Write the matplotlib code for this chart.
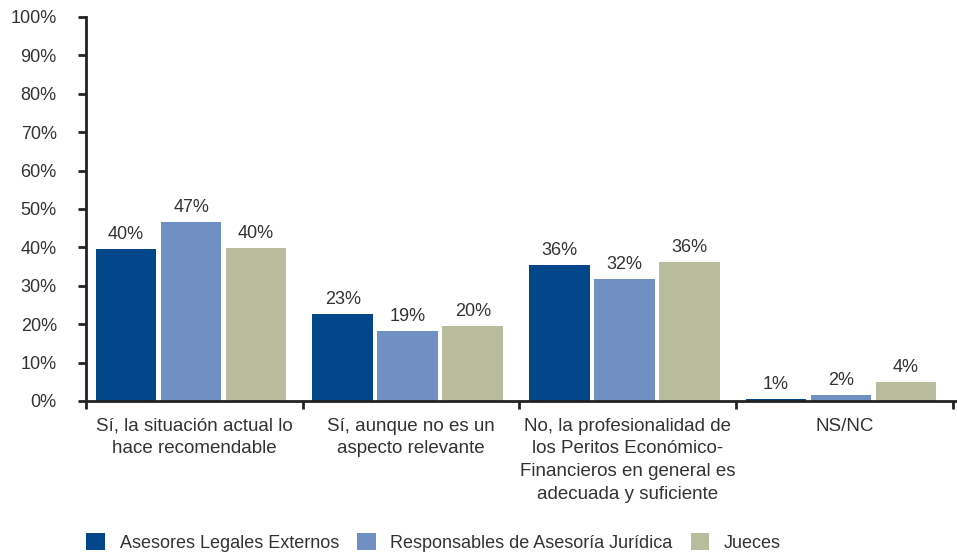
import numpy as np
import matplotlib
matplotlib.use("Agg")
from matplotlib import pyplot as plt
from matplotlib.patches import Patch

# Datos
categorias = [
    "Sí, la situación actual lo\nhace recomendable",
    "Sí, aunque no es un\naspecto relevante",
    "No, la profesionalidad de\nlos Peritos Económico-\nFinancieros en general es\nadecuada y suficiente",
    "NS/NC",
]
series = ["Asesores Legales Externos", "Responsables de Asesoría Jurídica", "Jueces"]
asesores = [39.6, 22.7, 35.4, 0.5]
responsables = [46.6, 18.2, 31.8, 1.6]
jueces = [39.8, 19.5, 36.2, 4.9]
etiquetas = [
    ["40%", "23%", "36%", "1%"],
    ["47%", "19%", "32%", "2%"],
    ["40%", "20%", "36%", "4%"],
]
colores = ["#03478A", "#7090C4", "#B8BC9C"]

plt.rcParams['font.family'] = ['Liberation Sans', 'DejaVu Sans']
texto = "#333333"

fig = plt.figure(figsize=(9.57, 5.53), dpi=100)
ax = fig.add_axes([0.0899, 0.2749, 0.9101, 0.6945])

x = np.arange(len(categorias))
ancho = 0.28
paso = 0.30
valores = [asesores, responsables, jueces]
for i, (vals, col) in enumerate(zip(valores, colores)):
    pos = x + (i - 1) * paso - 0.015
    ax.bar(pos, vals, width=ancho, color=col, zorder=2)
    for xp, v, lab in zip(pos, vals, etiquetas[i]):
        ax.text(xp, v + 1.5, lab, ha='center', va='bottom', fontsize=13, color=texto)

ax.set_ylim(0, 100)
ax.set_xlim(-0.5, 3.52)
ax.set_yticks(np.arange(0, 101, 10))
ax.set_yticklabels([f"{v}%" for v in range(0, 101, 10)], fontsize=13, color=texto)

# ticks del eje x en los límites de categoría, etiquetas centradas
ax.set_xticks(np.arange(-0.5, 4, 1.0))
ax.set_xticklabels([])
ax.set_xticks(x, minor=True)
ax.set_xticklabels(categorias, minor=True, fontsize=13.5, color=texto, linespacing=1.45, va='top')
ax.tick_params(axis='x', which='minor', length=0, pad=12)
ax.tick_params(axis='x', which='major', length=6, width=2, color='#222222', direction='out')
ax.tick_params(axis='y', length=6, width=2, color='#222222', direction='out', pad=15)

for s in ['top', 'right']:
    ax.spines[s].set_visible(False)
for s in ['left', 'bottom']:
    ax.spines[s].set_linewidth(2)
    ax.spines[s].set_color('#222222')

handles = [Patch(facecolor=c, edgecolor='none') for c in colores]
fig.legend(handles, series, loc='lower left', bbox_to_anchor=(0.073, -0.027), ncol=3,
           frameon=False, fontsize=13, handlelength=1.05, handleheight=1.05,
           handletextpad=0.8, columnspacing=1.0, labelcolor=texto)

fig.savefig("out.png", dpi=100)
